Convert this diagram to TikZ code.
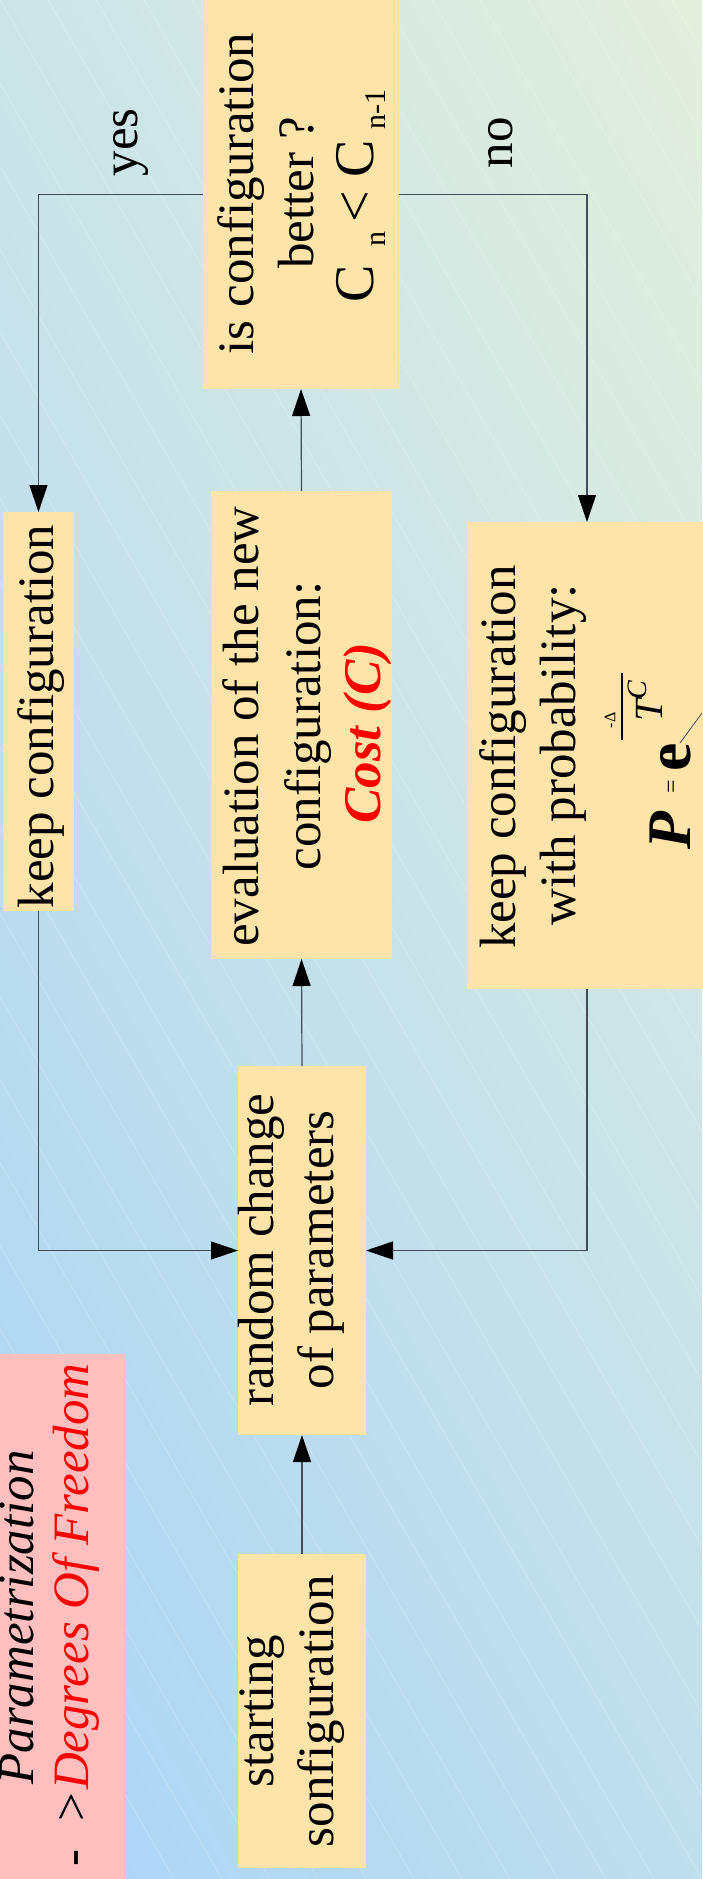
\documentclass[tikz,border=0pt]{standalone}
\usepackage{fontspec}
\setmainfont{Liberation Serif}
\usetikzlibrary{arrows.meta}
\definecolor{boxfill}{HTML}{FFE4AA}
\definecolor{pinkfill}{HTML}{FFBFBF}
\definecolor{bgleft}{HTML}{A9D4F7}
\definecolor{bgright}{HTML}{E3EFDD}
\definecolor{wire}{HTML}{434D57}
\newcommand{\subtxt}[1]{\raisebox{-12pt}{\fontsize{30}{30}\selectfont #1}}

\begin{document}
\begin{tikzpicture}[x=1pt,y=-1pt,
  stepbox/.style={rectangle, fill=boxfill, inner sep=0pt, outer sep=0pt},
  lbl/.style={rotate=90, anchor=base, inner sep=0pt, font=\fontsize{51}{60}\selectfont},
  wireline/.style={draw=wire, line width=1.2pt},
  flow/.style={wireline, -{Triangle[length=27pt,width=18pt,color=black]}},
]
\useasboundingbox (0,0) rectangle (702,1879);

% background: diagonal gradient with faint white hatching
\begin{scope}
  \clip (0,0) rectangle (702,1879);
  \begin{scope}[transform canvas={rotate around={30:(351,939.5)}}]
    \shade[left color=bgleft, right color=bgright]
      (-423,-110.5) rectangle (1125,1989.5);
  \end{scope}
  \foreach \k in {-1104,-1056,...,720}
    \draw[white, opacity=0.3, line width=0.6pt] (\k,0) -- ++(1086,1879);
\end{scope}

% boxes
\node[stepbox, minimum width=196, minimum height=389] (cond) at (301,194.5) {};
\node[stepbox, minimum width=71,  minimum height=399] (keep) at (38.5,711.5) {};
\node[stepbox, minimum width=181, minimum height=468] (eval) at (301.5,725) {};
\node[stepbox, minimum width=240, minimum height=467] (prob) at (587,755.5) {};
\node[stepbox, minimum width=128, minimum height=369] (rand) at (302,1250.5) {};
\node[stepbox, minimum width=128, minimum height=314] (start) at (302,1711) {};
\node[rectangle, fill=pinkfill, inner sep=0pt, minimum width=125, minimum height=525] (note) at (62.5,1616.5) {};

% box texts
\node[lbl] (c1) at (253,193.5) {is configuration};
\node[lbl] (c2) at (313,193) {better ?};
\node[lbl, font=\fontsize{56}{60}\selectfont] (c3) at (373,196) {C\hspace{18pt}\subtxt{n}\hspace{9pt}<\hspace{14pt}C\hspace{10pt}\subtxt{n-1}};

\node[lbl] (k1) at (53,716.5) {keep configuration};

\node[lbl] (e1) at (258,726.5) {evaluation of the new};
\node[lbl] (e2) at (320,726) {configuration:};
\node[lbl, text=red, font=\fontsize{53}{60}\selectfont\bfseries\itshape] (e3) at (380,733) {Cost (C)};

\node[lbl] (r1) at (273,1250) {random change};
\node[lbl] (r2) at (333,1250) {of parameters};

\node[lbl] (s1) at (273,1711) {starting};
\node[lbl] (s2) at (333,1711) {sonfiguration};

\node[lbl] (p1) at (515,757) {keep configuration};
\node[lbl] (p2) at (575,755) {with probability:};

% acceptance formula
\node[lbl, font=\fontsize{62}{62}\selectfont\bfseries\itshape] (fP) at (690,831) {P};
\node[lbl, anchor=center, font=\fontsize{24}{24}\selectfont] (fEq) at (673.5,786.5) {=};
\node[lbl, font=\fontsize{64}{64}\selectfont\bfseries] (fe) at (690,757) {e};
\node[fill=black, inner sep=0pt, minimum width=2.5, minimum height=67] (fbar) at (622,706.5) {};
\node[lbl, anchor=center, font=\fontsize{16}{16}\selectfont] (fnum) at (610,720.5) {-Δ};
\node[lbl, anchor=center, font=\fontsize{28}{28}\selectfont\itshape] (fC) at (637.5,690.5) {C};
\node[lbl, anchor=center, font=\fontsize{40}{40}\selectfont\itshape] (fT) at (649,710.5) {T};
\draw[wire, line width=0.8pt] (680,743) -- (702,713);

% note text
\node[lbl, anchor=base east, font=\fontsize{51}{60}\selectfont\itshape] (n1) at (33,1450) {Parametrization};
\node[lbl, anchor=base east] (n2) at (88,1363) {-\hspace{28pt}>\hspace{3pt}\textcolor{red}{\itshape Degrees Of Freedom}};

% decision labels
\node[lbl] (yes) at (137,142.5) {yes};
\node[lbl] (no) at (512,142.5) {no};

% connectors
\draw[flow] (start.north) -- (rand.south);
\draw[flow] (rand.north) -- (eval.south);
\draw[flow] (eval.north) -- (cond.south);
\draw[flow] (cond.west) -| (keep.north);
\draw[flow] (cond.east) -| (prob.north);
\draw[flow] (keep.south) |- (rand.west);
\draw[flow] (prob.south) |- (rand.east);
\end{tikzpicture}
\end{document}
